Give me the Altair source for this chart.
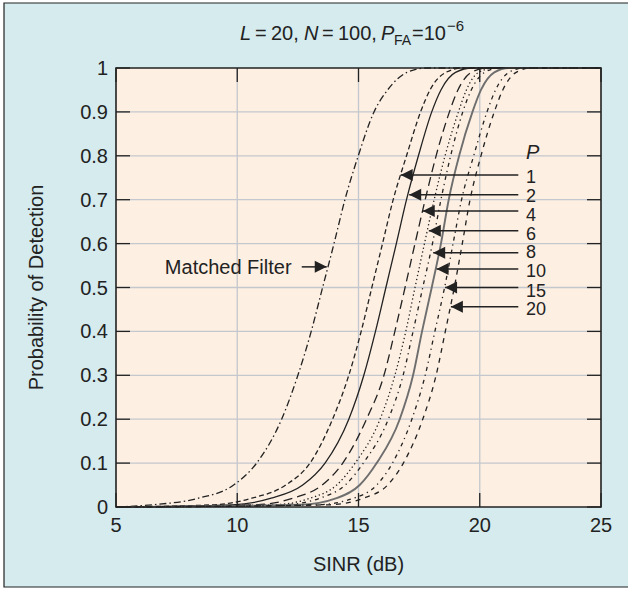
import altair as alt
import pandas as pd

# ---------------- data ----------------
PD_LEVELS = [0.0, 0.005, 0.02, 0.05, 0.1, 0.2, 0.3, 0.4, 0.5, 0.6, 0.7, 0.8, 0.9, 0.95, 0.99, 1.0, 1.0]

SINR_MF  = [5.0, 6.5, 8.4, 9.85, 10.8, 11.83, 12.5, 13.05, 13.52, 13.99, 14.44, 14.99, 15.64, 16.2, 17.0, 17.8, 25]
SINR_P1  = [5.0, 9.0, 10.6, 12.0, 13.0, 13.93, 14.6, 15.11, 15.55, 15.99, 16.43, 16.98, 17.56, 17.95, 18.6, 19.3, 25]
SINR_P2  = [5.0, 9.8, 11.4, 12.7, 13.62, 14.6, 15.22, 15.7, 16.13, 16.56, 16.98, 17.47, 18.02, 18.4, 19.0, 19.7, 25]
SINR_P4  = [5.0, 10.8, 12.3, 13.5, 14.35, 15.33, 16.05, 16.5, 16.92, 17.33, 17.75, 18.2, 18.75, 19.1, 19.65, 20.3, 25]
SINR_P6  = [5.0, 11.5, 13.0, 14.1, 14.86, 15.89, 16.5, 16.95, 17.33, 17.72, 18.12, 18.57, 19.12, 19.45, 19.95, 20.6, 25]
SINR_P8  = [5.0, 11.9, 13.4, 14.45, 15.2, 16.23, 16.84, 17.25, 17.65, 18.05, 18.4, 18.8, 19.3, 19.65, 20.2, 20.8, 25]
SINR_P10 = [5.0, 12.6, 14.1, 15.05, 15.75, 16.7, 17.25, 17.62, 18.02, 18.4, 18.72, 19.15, 19.7, 20.05, 20.6, 21.2, 25]
SINR_P15 = [5.0, 13.3, 14.8, 15.75, 16.4, 17.2, 17.75, 18.15, 18.55, 18.9, 19.25, 19.75, 20.3, 20.65, 21.2, 21.8, 25]
SINR_P20 = [5.0, 13.8, 15.2, 16.2, 16.85, 17.65, 18.2, 18.58, 18.95, 19.28, 19.6, 20.05, 20.6, 20.95, 21.5, 22.1, 25]

X_TICKS = [5, 10, 15, 20, 25]
X_LABELS = ["5", "10", "15", "20", "25"]
Y_TICKS = [0, 0.1, 0.2, 0.3, 0.4, 0.5, 0.6, 0.7, 0.8, 0.9, 1.0]
Y_LABELS = ["0", "0.1", "0.2", "0.3", "0.4", "0.5", "0.6", "0.7", "0.8", "0.9", "1"]
GRID_X = [10, 15, 20]
GRID_Y = [0.1, 0.2, 0.3, 0.4, 0.5, 0.6, 0.7, 0.8, 0.9]

ARROW_LABELS = ["1", "2", "4", "6", "8", "10", "15", "20"]
ARROW_PD = [0.756, 0.711, 0.674, 0.629, 0.579, 0.542, 0.500, 0.456]
ARROW_TIP = [16.74, 17.09, 17.65, 17.90, 18.08, 18.22, 18.57, 18.81]
LABEL_PD = [0.752, 0.709, 0.666, 0.623, 0.580, 0.537, 0.493, 0.450]
ARROW_TAIL = 21.59
ARROW_LABEL_X = 21.91
P_HEADER_PD = 0.806

MF_LABEL = "Matched Filter"
MF_ARROW_PD = 0.547
MF_ARROW_TAIL = 12.66
MF_ARROW_TIP = 13.69
MF_LABEL_X = 12.24

# ---------------- styling ----------------
W, H = 485, 439
BLUE = "#d5ebee"
PEACH = "#fdefe2"
GRID = "#c4c7cd"
DARK = "#222222"
GRAY = "#6e6e6e"
FONT = "Liberation Sans"

xs = alt.Scale(domain=[5, 25], nice=False, zero=False)
ys = alt.Scale(domain=[0, 1], nice=False, zero=False)

one = pd.DataFrame({"a": [0]})

outer = alt.Chart(one).mark_rect(fill=BLUE, stroke=DARK, strokeWidth=1.2).encode(
    x=alt.value(-112), x2=alt.value(530), y=alt.value(-65), y2=alt.value(519))
plotbg = alt.Chart(one).mark_rect(fill=PEACH).encode(
    x=alt.value(0), x2=alt.value(W), y=alt.value(0), y2=alt.value(H))

gx = alt.Chart(pd.DataFrame({"v": GRID_X})).mark_rule(color=GRID, strokeWidth=1.3).encode(
    x=alt.X("v:Q", scale=xs, axis=None), y=alt.value(0), y2=alt.value(H))
gy = alt.Chart(pd.DataFrame({"v": GRID_Y})).mark_rule(color=GRID, strokeWidth=1.3).encode(
    y=alt.Y("v:Q", scale=ys, axis=None), x=alt.value(0), x2=alt.value(W))

TL = 14
xt = pd.DataFrame({"v": X_TICKS})
yt = pd.DataFrame({"v": Y_TICKS})
tick_b = alt.Chart(xt).mark_rule(color=DARK, strokeWidth=1.3).encode(
    x=alt.X("v:Q", scale=xs, axis=None), y=alt.value(H), y2=alt.value(H - TL))
tick_t = alt.Chart(xt).mark_rule(color=DARK, strokeWidth=1.3).encode(
    x=alt.X("v:Q", scale=xs, axis=None), y=alt.value(0), y2=alt.value(TL))
tick_l = alt.Chart(yt).mark_rule(color=DARK, strokeWidth=1.3).encode(
    y=alt.Y("v:Q", scale=ys, axis=None), x=alt.value(0), x2=alt.value(TL))
tick_r = alt.Chart(yt).mark_rule(color=DARK, strokeWidth=1.3).encode(
    y=alt.Y("v:Q", scale=ys, axis=None), x=alt.value(W - TL), x2=alt.value(W))


def curve(sinr, color, dash, width):
    df = pd.DataFrame({"sinr": sinr, "pd": PD_LEVELS, "o": list(range(len(sinr)))})
    kw = dict(color=color, strokeWidth=width, interpolate="monotone")
    if dash:
        kw["strokeDash"] = dash
    return alt.Chart(df).mark_line(**kw).encode(
        x=alt.X("sinr:Q", scale=xs, axis=None),
        y=alt.Y("pd:Q", scale=ys, axis=None),
        order="o:Q")


curves = [
    curve(SINR_MF, DARK, [7, 3, 1.5, 3], 1.3),
    curve(SINR_P1, DARK, [5, 3], 1.3),
    curve(SINR_P2, DARK, None, 1.3),
    curve(SINR_P4, DARK, [9, 5], 1.3),
    curve(SINR_P6, DARK, [1.3, 2.7], 1.3),
    curve(SINR_P8, DARK, [4, 4, 1.3, 4], 1.3),
    curve(SINR_P10, GRAY, None, 1.9),
    curve(SINR_P15, DARK, [1.3, 4, 4, 4], 1.3),
    curve(SINR_P20, DARK, [5, 5], 1.3),
]

frame = alt.Chart(one).mark_rect(fillOpacity=0, stroke=DARK, strokeWidth=1.6).encode(
    x=alt.value(0), x2=alt.value(W), y=alt.value(0), y2=alt.value(H))

# tick labels
xl = alt.Chart(pd.DataFrame({"v": X_TICKS, "t": X_LABELS})).mark_text(
    font=FONT, fontSize=20, color=DARK, baseline="middle", align="center").encode(
    x=alt.X("v:Q", scale=xs, axis=None), y=alt.value(H + 19), text="t:N")
yl = alt.Chart(pd.DataFrame({"v": Y_TICKS, "t": Y_LABELS})).mark_text(
    font=FONT, fontSize=20, color=DARK, baseline="middle", align="right", dy=1).encode(
    y=alt.Y("v:Q", scale=ys, axis=None), x=alt.value(-8), text="t:N")

xtitle = alt.Chart(one).mark_text(font=FONT, fontSize=20, color=DARK, baseline="middle",
                                   align="center", text="SINR (dB)").encode(
    x=alt.value(W / 2), y=alt.value(497))
ytitle = alt.Chart(one).mark_text(font=FONT, fontSize=20, color=DARK, baseline="middle",
                                   align="center", angle=270, text="Probability of Detection").encode(
    x=alt.value(-79), y=alt.value(H / 2))

# title pieces: L = 20, N = 100, P_FA=10^-6  (x relative to plot's left edge)
TB = -28
pieces = [
    ("L", 124, TB, 20, "italic"),
    ("=", 139, TB, 20, "normal"),
    ("20,", 155, TB, 20, "normal"),
    ("N", 188, TB, 20, "italic"),
    ("=", 206, TB, 20, "normal"),
    ("100,", 222, TB, 20, "normal"),
    ("P", 265, TB, 20, "italic"),
    ("FA", 278, TB + 5, 14, "normal"),
    ("=10", 296, TB, 20, "normal"),
    ("\u22126", 331, TB - 9, 15, "normal"),
]
title_layers = [
    alt.Chart(one).mark_text(font=FONT, fontSize=fs, fontStyle=st, color=DARK, align="left",
                             baseline="alphabetic", text=t).encode(x=alt.value(px), y=alt.value(py))
    for t, px, py, fs, st in pieces
]

# arrows with P labels
adf = pd.DataFrame({"lab": ARROW_LABELS, "pd": ARROW_PD, "tip": ARROW_TIP, "lpd": LABEL_PD,
                    "tail": [ARROW_TAIL] * len(ARROW_LABELS),
                    "lx": [ARROW_LABEL_X] * len(ARROW_LABELS)})
arr_rule = alt.Chart(adf).mark_rule(color=DARK, strokeWidth=1.5).encode(
    x=alt.X("tip:Q", scale=xs, axis=None), x2="tail:Q", y=alt.Y("pd:Q", scale=ys, axis=None))
arr_head = alt.Chart(adf).mark_point(shape="M0,0L2,-1L2,1Z", size=144, filled=True,
                                     color=DARK, opacity=1, strokeWidth=0).encode(
    x=alt.X("tip:Q", scale=xs, axis=None), y=alt.Y("pd:Q", scale=ys, axis=None))
arr_lab = alt.Chart(adf).mark_text(font=FONT, fontSize=18, color=DARK, align="left",
                                   baseline="middle", dy=1).encode(
    x=alt.X("lx:Q", scale=xs, axis=None), y=alt.Y("lpd:Q", scale=ys, axis=None), text="lab:N")
p_head = alt.Chart(pd.DataFrame({"x": [ARROW_LABEL_X], "y": [P_HEADER_PD], "t": ["P"]})).mark_text(
    font=FONT, fontSize=20, fontStyle="italic", color=DARK, align="left", baseline="middle", dy=0).encode(
    x=alt.X("x:Q", scale=xs, axis=None), y=alt.Y("y:Q", scale=ys, axis=None), text="t:N")

mdf = pd.DataFrame({"tail": [MF_ARROW_TAIL], "tip": [MF_ARROW_TIP], "pd": [MF_ARROW_PD],
                    "lx": [MF_LABEL_X], "t": [MF_LABEL]})
mf_rule = alt.Chart(mdf).mark_rule(color=DARK, strokeWidth=1.5).encode(
    x=alt.X("tail:Q", scale=xs, axis=None), x2="tip:Q", y=alt.Y("pd:Q", scale=ys, axis=None))
mf_head = alt.Chart(mdf).mark_point(shape="M0,0L-2,-1L-2,1Z", size=144, filled=True,
                                    color=DARK, opacity=1, strokeWidth=0).encode(
    x=alt.X("tip:Q", scale=xs, axis=None), y=alt.Y("pd:Q", scale=ys, axis=None))
mf_lab = alt.Chart(mdf).mark_text(font=FONT, fontSize=20, color=DARK, align="right",
                                  baseline="middle", dy=1).encode(
    x=alt.X("lx:Q", scale=xs, axis=None), y=alt.Y("pd:Q", scale=ys, axis=None), text="t:N")

chart = alt.layer(
    outer, plotbg, gx, gy, *curves, tick_b, tick_t, tick_l, tick_r, frame,
    xl, yl, xtitle, ytitle, *title_layers,
    arr_rule, arr_head, arr_lab, p_head, mf_rule, mf_head, mf_lab,
).properties(
    width=W, height=H, background="white",
    autosize=alt.AutoSizeParams(type="none"),
    padding={"left": 116, "top": 68, "right": 27, "bottom": 82},
).configure_view(strokeWidth=0)

chart.save("out.html", embed_options={"renderer": "svg", "actions": False})
